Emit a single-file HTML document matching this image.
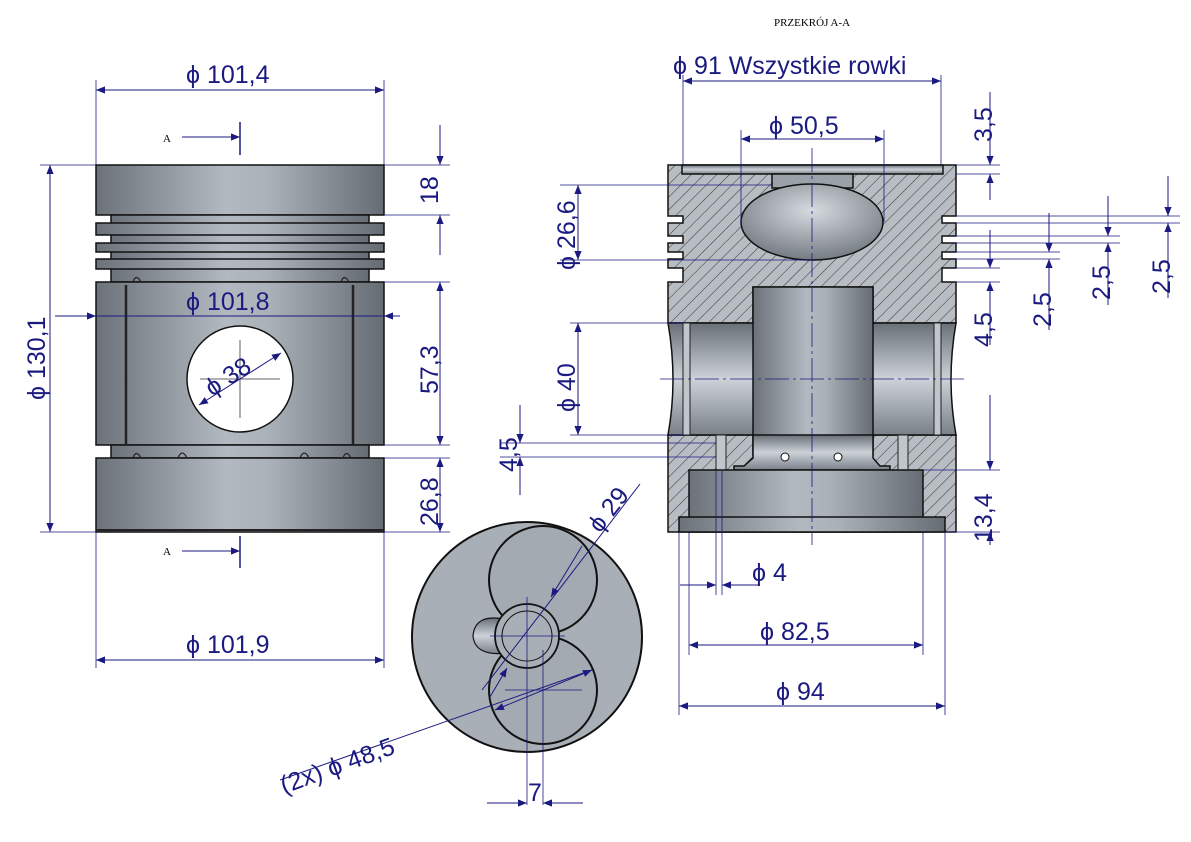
<!DOCTYPE html>
<html><head><meta charset="utf-8"><style>
html,body{margin:0;padding:0;background:#fff;}
svg{display:block;}
.d{stroke:#1a1a80;stroke-width:1;fill:none}
.e{stroke:#1a1a80;stroke-width:0.8;fill:none}
.t{font-family:"Liberation Sans",sans-serif;font-size:25px;fill:#1a1a80}
.o{stroke:#111;stroke-width:1.5}
</style></head><body>
<svg width="1191" height="842" viewBox="0 0 1191 842" xmlns="http://www.w3.org/2000/svg">
<defs>
<linearGradient id="g" x1="0" x2="1" y1="0" y2="0">
<stop offset="0" stop-color="#6c727a"/><stop offset="0.45" stop-color="#b2b9c0"/><stop offset="0.6" stop-color="#aab1b8"/><stop offset="1" stop-color="#666c74"/>
</linearGradient>
<linearGradient id="gv" x1="0" x2="0" y1="0" y2="1">
<stop offset="0" stop-color="#6a7078"/><stop offset="0.5" stop-color="#ccd2d8"/><stop offset="1" stop-color="#7a8088"/>
</linearGradient>
<radialGradient id="gb" cx="0.5" cy="0.35" r="0.7"><stop offset="0" stop-color="#d6dbe0"/><stop offset="1" stop-color="#6e747c"/></radialGradient>
<pattern id="h" width="9" height="9" patternUnits="userSpaceOnUse" patternTransform="rotate(45)">
<rect width="9" height="9" fill="#b8bdc3"/><line x1="0" y1="0" x2="0" y2="9" stroke="#333" stroke-width="1"/>
</pattern>
<marker id="a" viewBox="0 0 10 10" refX="10" refY="5" markerWidth="17" markerHeight="9" markerUnits="userSpaceOnUse" orient="auto-start-reverse"><path d="M0,1 L10,5 L0,9z" fill="#1a1a80"/></marker>
</defs>

<!-- ============ LEFT VIEW ============ -->
<rect x="96" y="165" width="288" height="50" fill="url(#g)" class="o"/>
<rect x="111" y="215" width="258" height="67" fill="url(#g)" class="o"/>
<rect x="96" y="223" width="288" height="12" fill="url(#g)" class="o"/>
<rect x="96" y="243" width="288" height="9" fill="url(#g)" class="o"/>
<rect x="96" y="259" width="288" height="10" fill="url(#g)" class="o"/>
<rect x="96" y="282" width="288" height="163" fill="url(#g)" class="o"/>
<rect x="111" y="445" width="258" height="13" fill="url(#g)" class="o"/>
<rect x="96" y="458" width="288" height="74" fill="url(#g)" class="o"/>
<line x1="96" y1="530" x2="384" y2="530" stroke="#222" stroke-width="2"/>
<line x1="126" y1="285" x2="126" y2="445" stroke="#222" stroke-width="2.5"/>
<line x1="353" y1="285" x2="353" y2="445" stroke="#222" stroke-width="2.5"/>
<g fill="none" stroke="#222" stroke-width="1.2">
<path d="M133,458 q3,-9 8,0 M178,458 q4,-10 9,0 M300,458 q4,-10 9,0 M343,458 q3,-9 8,0 M133,282 q3,-9 8,0 M341,282 q3,-9 8,0"/>
</g>
<circle cx="240" cy="379" r="53" fill="#fff" stroke="#111" stroke-width="1.5"/>
<line x1="240" y1="340" x2="240" y2="418" stroke="#333" stroke-width="0.8"/>
<line x1="200" y1="379" x2="280" y2="379" stroke="#333" stroke-width="0.8"/>
<line x1="199" y1="405" x2="281" y2="353" class="d" marker-start="url(#a)" marker-end="url(#a)"/>
<text class="t" transform="translate(212,397) rotate(-33)">ϕ 38</text>

<!-- left dims -->
<line x1="96" y1="80" x2="96" y2="165" class="e"/><line x1="384" y1="80" x2="384" y2="165" class="e"/>
<line x1="96" y1="90" x2="384" y2="90" class="d" marker-start="url(#a)" marker-end="url(#a)"/>
<text class="t" x="186" y="83">ϕ 101,4</text>
<line x1="40" y1="165" x2="96" y2="165" class="e"/><line x1="40" y1="532" x2="96" y2="532" class="e"/>
<line x1="50" y1="165" x2="50" y2="532" class="d" marker-start="url(#a)" marker-end="url(#a)"/>
<text class="t" transform="translate(45,400) rotate(-90)">ϕ 130,1</text>
<line x1="55" y1="316" x2="96" y2="316" class="d" marker-end="url(#a)"/>
<line x1="400" y1="316" x2="384" y2="316" class="d" marker-end="url(#a)"/>
<line x1="96" y1="316" x2="384" y2="316" class="d"/>
<text class="t" x="186" y="310">ϕ 101,8</text>
<g class="e"><line x1="384" y1="165" x2="450" y2="165"/><line x1="384" y1="215" x2="450" y2="215"/><line x1="384" y1="282" x2="450" y2="282"/><line x1="384" y1="445" x2="450" y2="445"/><line x1="384" y1="458" x2="450" y2="458"/><line x1="384" y1="532" x2="450" y2="532"/></g>
<line x1="440" y1="125" x2="440" y2="165" class="d" marker-end="url(#a)"/><line x1="440" y1="255" x2="440" y2="215" class="d" marker-end="url(#a)"/>
<text class="t" transform="translate(438,204) rotate(-90)">18</text>
<line x1="440" y1="282" x2="440" y2="445" class="d" marker-start="url(#a)" marker-end="url(#a)"/>
<text class="t" transform="translate(438,394) rotate(-90)">57,3</text>
<line x1="440" y1="458" x2="440" y2="532" class="d" marker-start="url(#a)" marker-end="url(#a)"/>
<text class="t" transform="translate(438,526) rotate(-90)">26,8</text>
<line x1="96" y1="532" x2="96" y2="668" class="e"/><line x1="384" y1="532" x2="384" y2="668" class="e"/>
<line x1="96" y1="660" x2="384" y2="660" class="d" marker-start="url(#a)" marker-end="url(#a)"/>
<text class="t" x="186" y="653">ϕ 101,9</text>
<!-- section markers -->
<g font-family="Liberation Serif,serif" font-size="11" fill="#000"><text x="163" y="142">A</text><text x="163" y="555">A</text></g>
<line x1="182" y1="137" x2="240" y2="137" stroke="#1a1a80" stroke-width="1" marker-end="url(#a)"/><line x1="240" y1="122" x2="240" y2="155" stroke="#1a1a80" stroke-width="1.5"/>
<line x1="182" y1="551" x2="240" y2="551" stroke="#1a1a80" stroke-width="1" marker-end="url(#a)"/><line x1="240" y1="536" x2="240" y2="568" stroke="#1a1a80" stroke-width="1.5"/>

<!-- ============ SECTION VIEW ============ -->
<text x="812" y="26" font-family="Liberation Serif,serif" font-size="11" text-anchor="middle" fill="#000">PRZEKRÓJ A-A</text>
<path d="M668,165 H956 V216 H942 V223 H956 V236 H942 V243 H956 V252 H942 V259 H956 V268 H942 V282 H956 V323 H873 V287 H753 V323 H668 V282 H683 V268 H668 V259 H683 V252 H668 V243 H683 V236 H668 V223 H683 V216 H668 Z" fill="url(#h)" class="o"/>
<path d="M668,435 H956 V532 H668 Z" fill="url(#h)" class="o"/>
<rect x="682" y="165" width="261" height="9" fill="url(#gv)" class="o"/>
<rect x="772" y="174" width="81" height="14" fill="#9aa1a9" class="o"/>
<ellipse cx="812" cy="222" rx="71" ry="38" fill="url(#gb)" class="o"/>
<path d="M668,323 H956 Q946,380 956,435 H668 Q678,380 668,323 Z" fill="url(#gv)" class="o"/>
<rect x="683" y="323" width="7" height="112" fill="#c0c6cc" stroke="#222"/>
<rect x="934" y="323" width="7" height="112" fill="#c0c6cc" stroke="#222"/>
<rect x="753" y="287" width="120" height="168" fill="url(#g)" class="o"/>
<path d="M753,435 H873 V458 L880,466 H890 V470 H734 V466 H744 L753,458 Z" fill="url(#gv)" class="o"/>
<circle cx="785" cy="457" r="4" fill="#fff" stroke="#111"/><circle cx="838" cy="457" r="4" fill="#fff" stroke="#111"/>
<rect x="716" y="435" width="10" height="35" fill="#c0c6cc" stroke="#222"/>
<rect x="898" y="435" width="10" height="35" fill="#c0c6cc" stroke="#222"/>
<rect x="689" y="470" width="234" height="62" fill="url(#g)" class="o"/>
<rect x="679" y="517" width="266" height="15" fill="url(#g)" class="o"/>
<line x1="812" y1="148" x2="812" y2="545" stroke="#1a1a80" stroke-width="0.8" stroke-dasharray="24,4,3,4"/>
<line x1="660" y1="379" x2="965" y2="379" stroke="#1a1a80" stroke-width="0.8" stroke-dasharray="24,4,3,4"/>

<!-- section dims -->
<line x1="683" y1="75" x2="683" y2="165" class="e"/><line x1="941" y1="75" x2="941" y2="165" class="e"/>
<line x1="683" y1="81" x2="941" y2="81" class="d" marker-start="url(#a)" marker-end="url(#a)"/>
<text class="t" x="673" y="74">ϕ 91  Wszystkie rowki</text>
<line x1="741" y1="130" x2="741" y2="222" class="e"/><line x1="884" y1="130" x2="884" y2="222" class="e"/>
<line x1="741" y1="139" x2="884" y2="139" class="d" marker-start="url(#a)" marker-end="url(#a)"/>
<text class="t" x="769" y="134">ϕ 50,5</text>
<line x1="560" y1="185" x2="772" y2="185" class="e"/><line x1="560" y1="260" x2="812" y2="260" class="e"/>
<line x1="578" y1="185" x2="578" y2="260" class="d" marker-start="url(#a)" marker-end="url(#a)"/>
<text class="t" transform="translate(575,270) rotate(-90)">ϕ 26,6</text>
<line x1="570" y1="323" x2="683" y2="323" class="e"/><line x1="570" y1="435" x2="683" y2="435" class="e"/>
<line x1="578" y1="323" x2="578" y2="435" class="d" marker-start="url(#a)" marker-end="url(#a)"/>
<text class="t" transform="translate(575,412) rotate(-90)">ϕ 40</text>
<line x1="500" y1="443" x2="716" y2="443" class="e"/><line x1="500" y1="457" x2="716" y2="457" class="e"/>
<line x1="520" y1="405" x2="520" y2="443" class="d" marker-end="url(#a)"/><line x1="520" y1="495" x2="520" y2="457" class="d" marker-end="url(#a)"/>
<text class="t" transform="translate(517,472) rotate(-90)">4,5</text>
<g class="e"><line x1="956" y1="165" x2="1000" y2="165"/><line x1="956" y1="174" x2="1000" y2="174"/><line x1="956" y1="216" x2="1180" y2="216"/><line x1="956" y1="223" x2="1180" y2="223"/><line x1="956" y1="236" x2="1120" y2="236"/><line x1="956" y1="243" x2="1120" y2="243"/><line x1="956" y1="252" x2="1060" y2="252"/><line x1="956" y1="259" x2="1060" y2="259"/><line x1="956" y1="268" x2="1000" y2="268"/><line x1="956" y1="282" x2="1000" y2="282"/><line x1="923" y1="470" x2="1000" y2="470"/><line x1="945" y1="532" x2="1000" y2="532"/></g>
<line x1="990" y1="92" x2="990" y2="165" class="d" marker-end="url(#a)"/><line x1="990" y1="200" x2="990" y2="174" class="d" marker-end="url(#a)"/>
<text class="t" transform="translate(992,142) rotate(-90)">3,5</text>
<line x1="990" y1="230" x2="990" y2="268" class="d" marker-end="url(#a)"/><line x1="990" y1="345" x2="990" y2="282" class="d" marker-end="url(#a)"/>
<text class="t" transform="translate(992,347) rotate(-90)">4,5</text>
<line x1="990" y1="395" x2="990" y2="470" class="d" marker-end="url(#a)"/><line x1="990" y1="545" x2="990" y2="532" class="d" marker-end="url(#a)"/>
<text class="t" transform="translate(992,542) rotate(-90)">13,4</text>
<line x1="1049" y1="213" x2="1049" y2="252" class="d" marker-end="url(#a)"/><line x1="1049" y1="330" x2="1049" y2="259" class="d" marker-end="url(#a)"/>
<text class="t" transform="translate(1051,327) rotate(-90)">2,5</text>
<line x1="1108" y1="196" x2="1108" y2="236" class="d" marker-end="url(#a)"/><line x1="1108" y1="305" x2="1108" y2="243" class="d" marker-end="url(#a)"/>
<text class="t" transform="translate(1110,300) rotate(-90)">2,5</text>
<line x1="1168" y1="176" x2="1168" y2="216" class="d" marker-end="url(#a)"/><line x1="1168" y1="298" x2="1168" y2="223" class="d" marker-end="url(#a)"/>
<text class="t" transform="translate(1170,294) rotate(-90)">2,5</text>
<line x1="716" y1="470" x2="716" y2="595" class="e"/><line x1="722" y1="470" x2="722" y2="595" class="e"/>
<line x1="680" y1="585" x2="716" y2="585" class="d" marker-end="url(#a)"/><line x1="760" y1="585" x2="722" y2="585" class="d" marker-end="url(#a)"/>
<text class="t" x="752" y="581">ϕ 4</text>
<line x1="689" y1="532" x2="689" y2="655" class="e"/><line x1="923" y1="532" x2="923" y2="655" class="e"/>
<line x1="689" y1="645" x2="923" y2="645" class="d" marker-start="url(#a)" marker-end="url(#a)"/>
<text class="t" x="760" y="640">ϕ 82,5</text>
<line x1="679" y1="532" x2="679" y2="715" class="e"/><line x1="945" y1="532" x2="945" y2="715" class="e"/>
<line x1="679" y1="706" x2="945" y2="706" class="d" marker-start="url(#a)" marker-end="url(#a)"/>
<text class="t" x="776" y="700">ϕ 94</text>

<!-- ============ BOTTOM VIEW ============ -->
<circle cx="527" cy="637" r="115" fill="#a9afb6" stroke="#111" stroke-width="2"/>
<path d="M508,620 Q475,612 473,636 Q475,657 508,653 Z" fill="url(#gv)" stroke="#111" stroke-width="1.2"/>
<circle cx="543" cy="580" r="54" fill="#a4aab1" stroke="#111" stroke-width="2"/>
<circle cx="543" cy="690" r="54" fill="#a4aab1" stroke="#111" stroke-width="2"/>
<circle cx="527" cy="636" r="32" fill="#a9afb6" stroke="#111" stroke-width="1.8"/>
<circle cx="527" cy="636" r="25" fill="none" stroke="#111" stroke-width="1"/>
<line x1="527" y1="597" x2="527" y2="805" class="e"/><line x1="543" y1="650" x2="543" y2="805" class="e"/>
<line x1="490" y1="636" x2="565" y2="636" class="e"/><line x1="505" y1="690" x2="582" y2="690" class="e"/>
<line x1="482" y1="690" x2="640" y2="484" class="d"/>
<line x1="582" y1="546" x2="551" y2="597" class="d" marker-end="url(#a)"/>
<line x1="490" y1="697" x2="507" y2="668" class="d" marker-end="url(#a)"/>
<text class="t" transform="translate(600,534) rotate(-52)">ϕ 29</text>
<line x1="280" y1="780" x2="592" y2="670" class="d"/>
<line x1="495" y1="710" x2="592" y2="670" class="d" marker-start="url(#a)" marker-end="url(#a)"/>
<text class="t" transform="translate(284,794) rotate(-20)">(2x) ϕ 48,5</text>
<line x1="487" y1="803" x2="527" y2="803" class="d" marker-end="url(#a)"/><line x1="583" y1="803" x2="543" y2="803" class="d" marker-end="url(#a)"/>
<text class="t" x="528" y="801">7</text>
</svg>
</body></html>
